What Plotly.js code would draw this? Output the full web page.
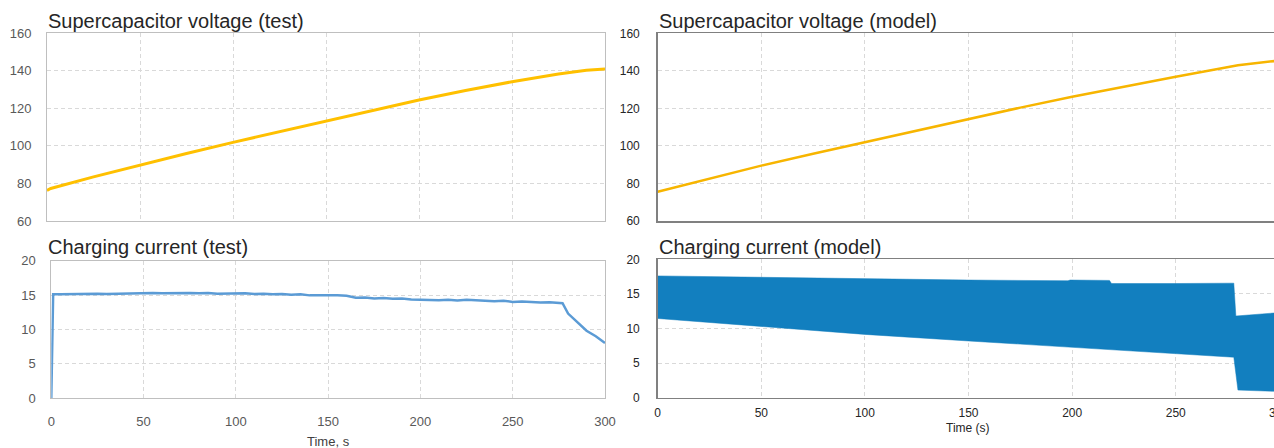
<!DOCTYPE html>
<html>
<head>
<meta charset="utf-8">
<script src="https://cdn.plot.ly/plotly-3.0.1.min.js"></script>
<style>html,body{margin:0;padding:0;background:#fff;}#chart{width:1274px;height:448px;}</style>
</head>
<body>
<div id="chart"></div>
<script>
// ---- Data ----
const voltTestTime = [0, 2, 25, 50, 75, 100, 125, 150, 175, 200, 225, 250, 275, 290, 300];
const voltTest     = [76.3, 77.3, 83.5, 89.8, 96.0, 101.9, 107.5, 112.9, 118.8, 124.5, 129.5, 134.2, 138.3, 140.3, 141.0];

const currTestTime = [0, 1, 5, 10, 15, 20, 25, 30, 35, 40, 45, 50, 55, 60, 65, 70, 75, 80, 85, 90, 95, 100,
                      105, 110, 115, 120, 125, 130, 135, 140, 145, 150, 155, 160, 165, 170, 175, 180, 185, 190,
                      195, 200, 205, 210, 215, 220, 225, 230, 235, 240, 245, 250, 255, 260, 265, 270, 275, 277,
                      280, 285, 290, 295, 300];
const currTest     = [0, 15.1, 15.1, 15.15, 15.1, 15.15, 15.2, 15.15, 15.2, 15.25, 15.2, 15.25, 15.3, 15.25, 15.3, 15.25, 15.3, 15.25, 15.3, 15.2, 15.25, 15.2,
                      15.25, 15.15, 15.2, 15.1, 15.15, 15.05, 15.1, 14.95, 15.0, 14.95, 14.95, 14.9, 14.6, 14.65, 14.5, 14.55, 14.45, 14.5,
                      14.35, 14.3, 14.35, 14.25, 14.3, 14.2, 14.3, 14.2, 14.2, 14.1, 14.15, 14.0, 14.05, 13.95, 13.9, 13.95, 13.8, 13.8,
                      12.3, 11.0, 9.8, 9.0, 8.0];

const voltModelTime = [0, 25, 50, 75, 100, 125, 150, 175, 200, 225, 250, 280, 300];
const voltModel     = [75.6, 82.6, 89.5, 95.8, 102.0, 108.3, 114.4, 120.4, 126.2, 131.7, 136.9, 143.0, 145.5];

const currModelUpperTime = [0, 50, 100, 150, 198, 199, 218, 219, 250, 278, 279, 290, 300];
const currModelUpper     = [17.6, 17.4, 17.15, 17.0, 16.9, 17.0, 16.95, 16.5, 16.5, 16.55, 11.8, 12.1, 12.3];
const currModelLowerTime = [0, 50, 100, 150, 200, 250, 278, 280, 290, 300];
const currModelLower     = [11.45, 10.25, 9.15, 8.2, 7.25, 6.3, 5.85, 1.1, 1.0, 0.9];

const xTicks = [0, 50, 100, 150, 200, 250, 300];

// ---- Layout helpers ----
const W = 1274, H = 448;
const px = v => v / W;
const py = v => 1 - v / H;

const gridCol = '#d9d9d9';
const leftTickFont = {family: 'Liberation Sans, Arial, sans-serif', size: 13, color: '#595959'};
const rightTickFont = {family: 'Liberation Sans, Arial, sans-serif', size: 12, color: '#262626'};

function leftX(domain, showLabels) {
  return {domain: domain, range: [0, 300], tickvals: xTicks, showticklabels: showLabels,
          showgrid: true, gridcolor: gridCol, griddash: '4px,3px', gridwidth: 1,
          showline: true, mirror: true, linecolor: '#bfbfbf', linewidth: 1,
          zeroline: false, ticks: '', tickfont: leftTickFont, ticklabelstandoff: 11, fixedrange: true};
}
function leftY(domain, range, dtick) {
  return {domain: domain, range: range, dtick: dtick, showgrid: true, gridcolor: gridCol, griddash: '4px,3px',
          showline: true, mirror: true, linecolor: '#bfbfbf', linewidth: 1,
          zeroline: false, ticks: '', tickfont: leftTickFont, ticklabelstandoff: 12, fixedrange: true};
}
function rightX(domain, showLabels) {
  return {domain: domain, range: [0, 297.4], tickvals: xTicks, showticklabels: showLabels,
          showgrid: true, gridcolor: gridCol, griddash: '4px,3px', gridwidth: 1,
          showline: true, mirror: true, linecolor: '#808080', linewidth: 1.5,
          zeroline: false, ticks: '', tickfont: rightTickFont, ticklabelstandoff: 3, fixedrange: true};
}
function rightY(domain, range, dtick) {
  return {domain: domain, range: range, dtick: dtick, showgrid: true, gridcolor: gridCol, griddash: '4px,3px',
          showline: true, mirror: false, linecolor: '#808080', linewidth: 1.5,
          zeroline: false, ticks: '', tickfont: rightTickFont, ticklabelstandoff: 14, fixedrange: true};
}

const traces = [
  {x: voltTestTime, y: voltTest, xaxis: 'x', yaxis: 'y', mode: 'lines',
   line: {color: '#ffc000', width: 3}, hoverinfo: 'skip'},
  {x: currTestTime, y: currTest, xaxis: 'x2', yaxis: 'y2', mode: 'lines',
   line: {color: '#5b9bd5', width: 2.5}, hoverinfo: 'skip'},
  {x: voltModelTime, y: voltModel, xaxis: 'x3', yaxis: 'y3', mode: 'lines',
   line: {color: '#f7b500', width: 2.5}, hoverinfo: 'skip'},
  {x: currModelLowerTime, y: currModelLower, xaxis: 'x4', yaxis: 'y4', mode: 'lines',
   line: {color: '#127fbf', width: 0.5}, hoverinfo: 'skip'},
  {x: currModelUpperTime, y: currModelUpper, xaxis: 'x4', yaxis: 'y4', mode: 'lines',
   fill: 'tonexty', fillcolor: '#127fbf', line: {color: '#127fbf', width: 0.5}, hoverinfo: 'skip'}
];

const titleFont = {family: 'Liberation Sans, Arial, sans-serif', size: 20, color: '#262626'};

const layout = {
  width: W, height: H,
  margin: {l: 0, r: 0, t: 0, b: 0},
  paper_bgcolor: '#ffffff', plot_bgcolor: '#ffffff',
  showlegend: false,
  xaxis:  Object.assign(leftX([px(47), px(605)], false), {anchor: 'y'}),
  yaxis:  Object.assign(leftY([py(221), py(33.3)], [60, 160], 20), {anchor: 'x'}),
  xaxis2: Object.assign(leftX([px(51.3), px(605)], true), {anchor: 'y2'}),
  yaxis2: Object.assign(leftY([py(398), py(260.7)], [0, 20], 5), {anchor: 'x2'}),
  xaxis3: Object.assign(rightX([px(657.7), 1], false), {anchor: 'y3'}),
  yaxis3: Object.assign(rightY([py(221), py(33.3)], [60, 160], 20), {anchor: 'x3'}),
  xaxis4: Object.assign(rightX([px(657.7), 1], true), {anchor: 'y4'}),
  yaxis4: Object.assign(rightY([py(397.7), py(259.3)], [0, 20], 5), {anchor: 'x4'}),
  annotations: [
    {text: 'Supercapacitor voltage (test)', xref: 'paper', yref: 'paper', x: px(46), y: py(20.5),
     xanchor: 'left', yanchor: 'middle', showarrow: false, font: titleFont},
    {text: 'Charging current (test)', xref: 'paper', yref: 'paper', x: px(46), y: py(247.5),
     xanchor: 'left', yanchor: 'middle', showarrow: false, font: titleFont},
    {text: 'Supercapacitor voltage (model)', xref: 'paper', yref: 'paper', x: px(657), y: py(20.5),
     xanchor: 'left', yanchor: 'middle', showarrow: false, font: titleFont},
    {text: 'Charging current (model)', xref: 'paper', yref: 'paper', x: px(657), y: py(247.5),
     xanchor: 'left', yanchor: 'middle', showarrow: false, font: titleFont},
    {text: 'Time, s', xref: 'paper', yref: 'paper', x: px(328), y: py(441.5),
     xanchor: 'center', yanchor: 'middle', showarrow: false,
     font: {family: 'Liberation Sans, Arial, sans-serif', size: 13, color: '#404040'}},
    {text: 'Time (s)', xref: 'paper', yref: 'paper', x: px(968), y: py(427.5),
     xanchor: 'center', yanchor: 'middle', showarrow: false,
     font: {family: 'Liberation Sans, Arial, sans-serif', size: 12, color: '#262626'}},
    {text: '300', xref: 'paper', yref: 'paper', x: px(1279), y: py(413),
     xanchor: 'center', yanchor: 'middle', showarrow: false, font: rightTickFont}
  ]
};

Plotly.newPlot('chart', traces, layout, {staticPlot: true, displayModeBar: false});
</script>
</body>
</html>
